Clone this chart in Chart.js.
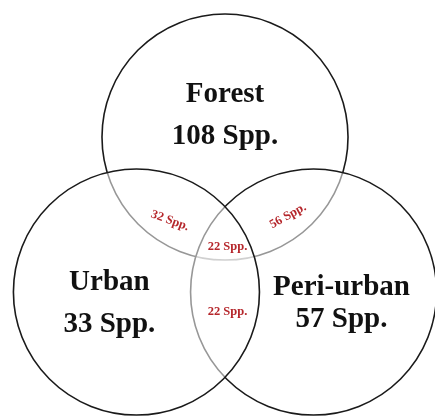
<!DOCTYPE html>
<html>
<head>
<meta charset="utf-8">
<script src="https://cdn.jsdelivr.net/npm/chart.js@4"></script>
<style>
  html, body { margin: 0; padding: 0; background: #fff; }
  #wrap { width: 435px; height: 416px; }
</style>
</head>
<body>
<div id="wrap"><canvas id="myChart"></canvas></div>
<script>
// data
const sets = ['Forest', 'Peri-urban', 'Urban'];   // drawing order
const species = [108, 57, 33];
const overlaps = ['Forest+Urban', 'Forest+Peri-urban', 'All three', 'Urban+Peri-urban'];
const overlapSpecies = [32, 56, 22, 22];

// venn layout, in units of one circle radius
const R = 1;
const centreX = [0, 0.72, -0.72];
const centreY = [0.63, -0.63, -0.63];
const X_MIN = -1.829, X_MAX = 1.707;
const Y_MIN = -1.638, Y_MAX = 1.744;

// where the texts go (same units)
const setText = [
  {x: 0, y: [0.915, 0.573]},
  {x: 0.947, y: [-0.654, -0.915]},
  {x: -0.94, y: [-0.614, -0.953]}
];
const overlapText = [
  {x: -0.447, y: -0.05, rot: 20},
  {x: 0.512, y: -0.012, rot: -29},
  {x: 0.02, y: -0.264, rot: 0},
  {x: 0.02, y: -0.793, rot: 0}
];

const serif = '"Liberation Serif", "Times New Roman", serif';

const vennLabels = {
  id: 'vennLabels',
  afterDatasetsDraw(chart) {
    const {ctx, scales: {x, y}} = chart;
    ctx.save();
    ctx.textAlign = 'center';
    ctx.textBaseline = 'alphabetic';
    ctx.fillStyle = '#111';
    ctx.font = 'bold 29px ' + serif;
    sets.forEach((name, i) => {
      const t = setText[i];
      const px = x.getPixelForValue(t.x);
      ctx.fillText(name, px, y.getPixelForValue(t.y[0]));
      ctx.fillText(species[i] + ' Spp.', px, y.getPixelForValue(t.y[1]));
    });
    ctx.fillStyle = '#b5262b';
    ctx.font = 'bold 12.5px ' + serif;
    ctx.textBaseline = 'middle';
    overlapSpecies.forEach((v, i) => {
      const t = overlapText[i];
      ctx.save();
      ctx.translate(x.getPixelForValue(t.x), y.getPixelForValue(t.y));
      ctx.rotate(t.rot * Math.PI / 180);
      ctx.fillText(v + ' Spp.', 0, 0);
      ctx.restore();
    });
    ctx.restore();
  }
};

// bubble radius is in pixels, so convert the unit radius once
const pxPerUnit = document.getElementById('wrap').clientWidth / (X_MAX - X_MIN);

const data = {
  datasets: [{
    label: 'Species',
    data: sets.map((s, i) => ({x: centreX[i], y: centreY[i], r: R * pxPerUnit})),
    backgroundColor: 'rgba(255, 255, 255, 0.55)',
    borderColor: '#1a1a1a',
    borderWidth: 1.6,
    clip: false
  }]
};

const config = {
  type: 'bubble',
  data,
  options: {
    responsive: true,
    maintainAspectRatio: false,
    animation: false,
    events: [],
    layout: { padding: 0, autoPadding: false },
    scales: {
      x: { type: 'linear', display: false, min: X_MIN, max: X_MAX },
      y: { type: 'linear', display: false, min: Y_MIN, max: Y_MAX }
    },
    plugins: {
      legend: { display: false },
      tooltip: { enabled: false }
    }
  },
  plugins: [vennLabels]
};

const myChart = new Chart(document.getElementById('myChart'), config);
</script>
</body>
</html>
